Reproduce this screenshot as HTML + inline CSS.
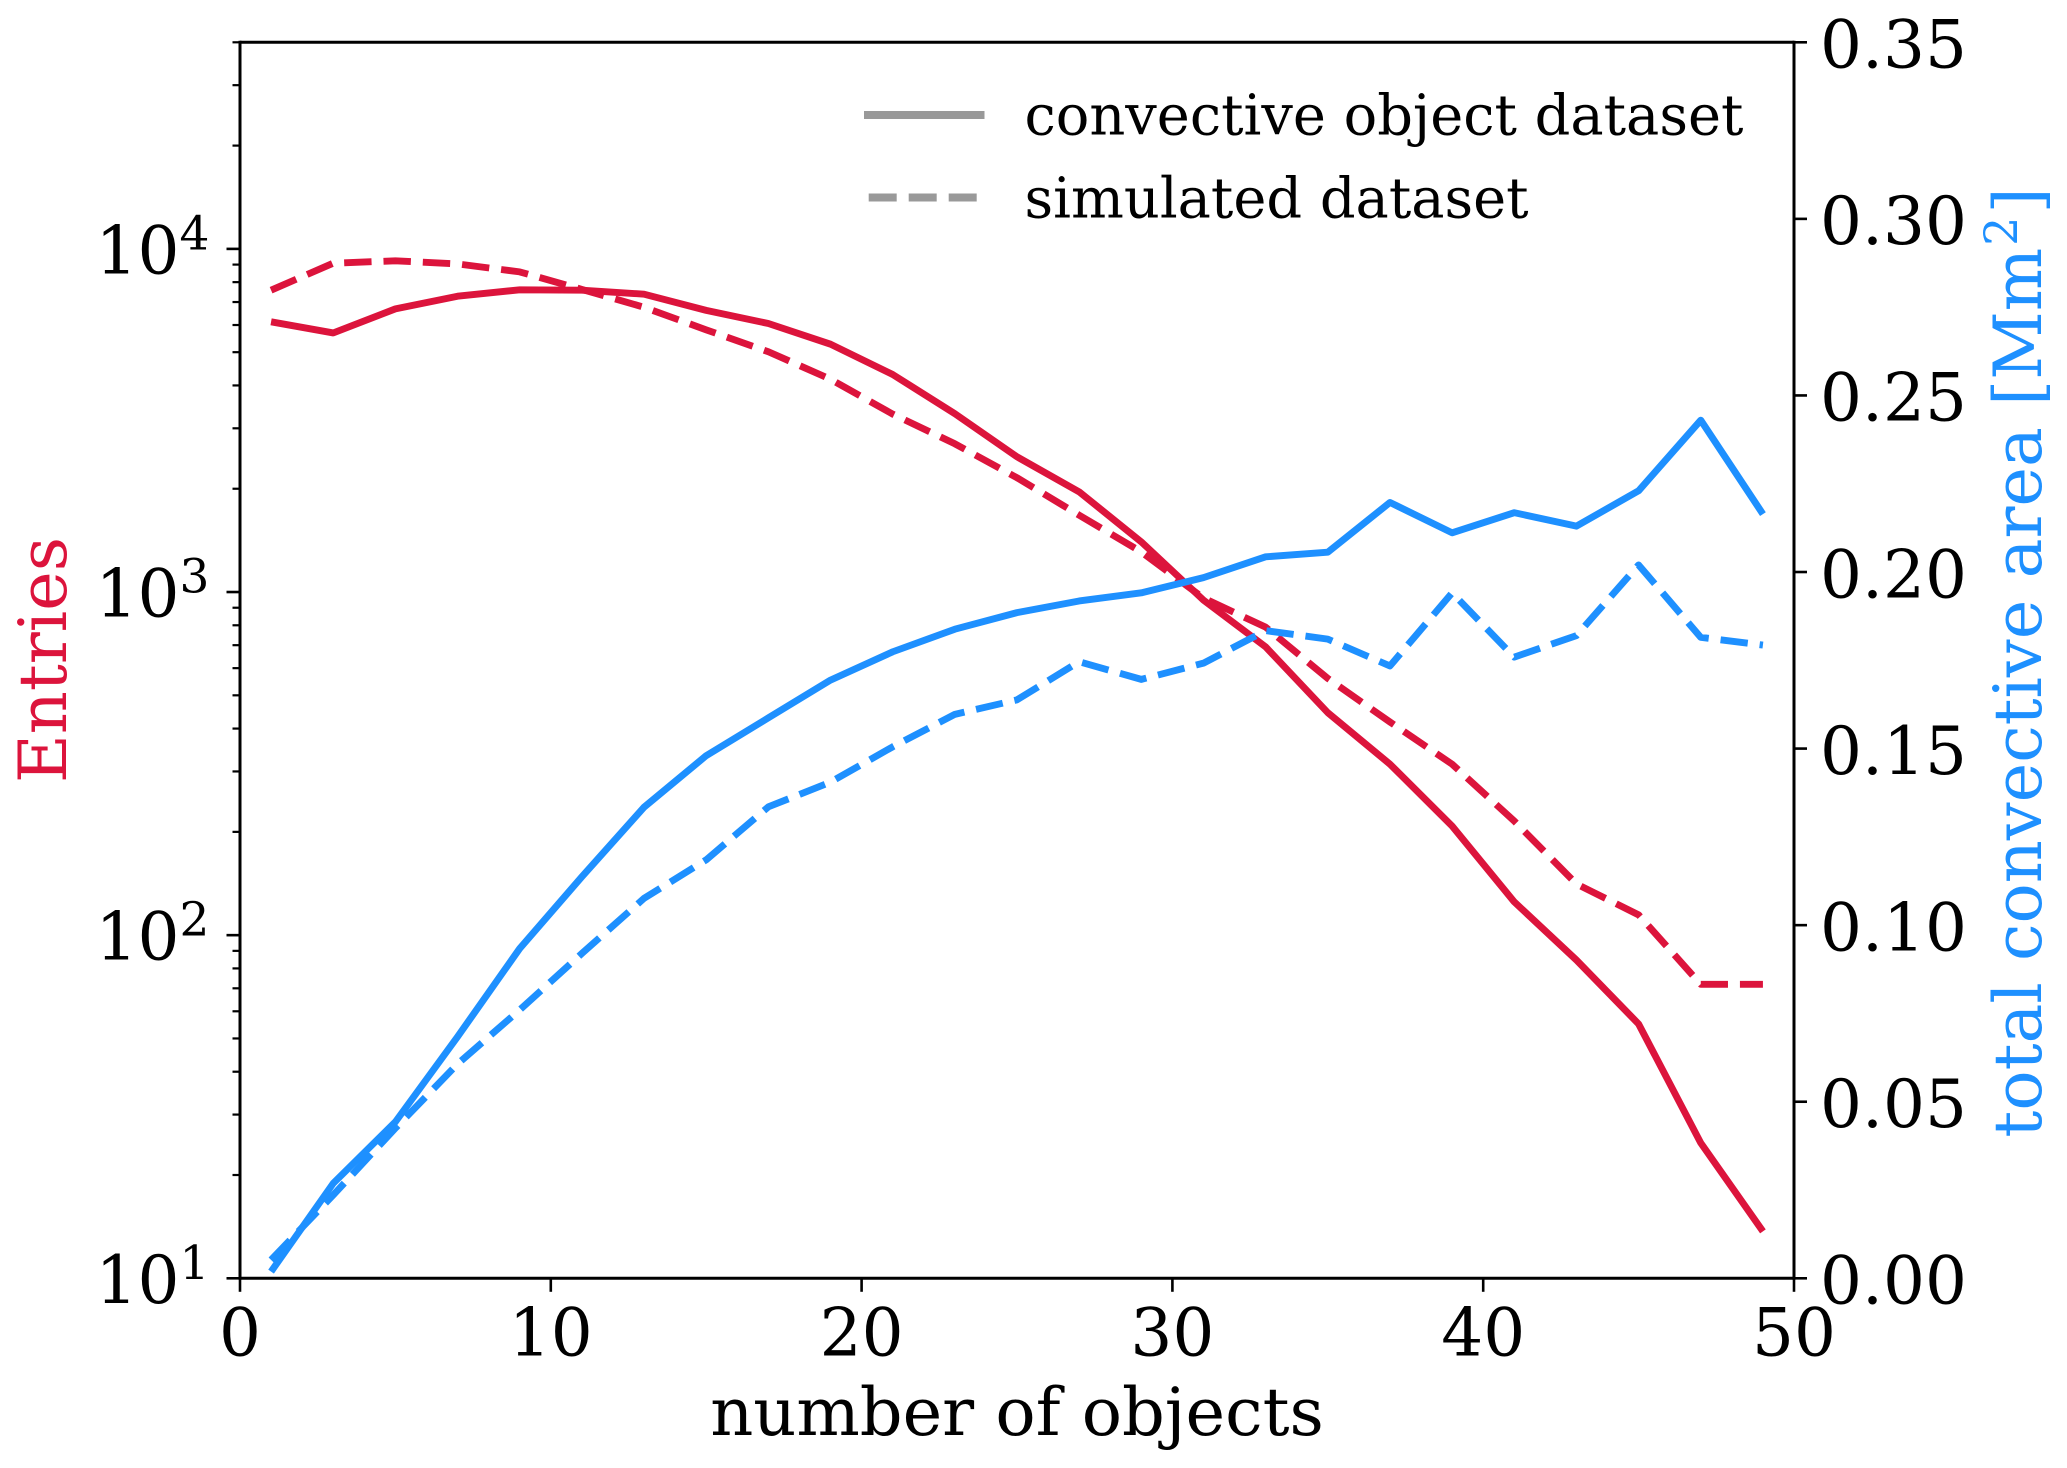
<!DOCTYPE html>
<html lang="en">
<head>
<meta charset="utf-8">
<title>Entries and total convective area versus number of objects</title>
<style>
  html, body { margin: 0; padding: 0; background: #ffffff; }
  body { width: 2067px; height: 1468px; overflow: hidden; }
  svg { display: block; }
  text { font-family: "DejaVu Serif", "Liberation Serif", serif; fill: #000000; }
</style>
</head>
<body>
<svg id="chart" xmlns="http://www.w3.org/2000/svg" width="2067" height="1468" viewBox="0 0 2067 1468">
  <rect x="0" y="0" width="2067" height="1468" fill="#ffffff"></rect>
  <g id="series-layer"></g>
  <g id="axes-layer"></g>
  <g id="legend">
    <line x1="864" y1="115" x2="984.5" y2="115" stroke="#999999" stroke-width="8"></line>
    <text x="1024.5" y="134.5" font-size="55.8">convective object dataset</text>
    <line x1="868.7" y1="197.5" x2="977" y2="197.5" stroke="#999999" stroke-width="8" stroke-dasharray="28 12"></line>
    <text x="1024.5" y="217.5" font-size="55.8">simulated dataset</text>
  </g>
  <text x="1017" y="1435" font-size="66.9" text-anchor="middle">number of objects</text>
  <text transform="translate(66 660) rotate(-90)" font-size="66.9" text-anchor="middle" style="fill:#DC143C">Entries</text>
  <text transform="translate(2041 662.5) rotate(-90)" font-size="66.9" text-anchor="middle" style="fill:#1E90FF">total convective area [Mm<tspan dx="2" dy="-24" font-size="46">2</tspan><tspan dx="3" dy="24">]</tspan></text>
</svg>
<script>
// Chart data
const objectCounts = [1,3,5,7,9,11,13,15,17,19,21,23,25,27,29,31,33,35,37,39,41,43,45,47,49];
const entriesObserved = [6130,5690,6685,7280,7600,7580,7380,6620,6060,5275,4305,3310,2478,1959,1400,947,692,445,315,208,125,84.6,55.1,24.8,13.7];
const entriesSimulated = [7580,9085,9230,9040,8570,7620,6760,5808,5015,4170,3300,2704,2153,1675,1309,960,790,560,418,315,215,141,114.6,71.9,71.9];
const areaObserved = [0.0019,0.0269,0.0443,0.0684,0.0934,0.1137,0.1334,0.1480,0.1587,0.1694,0.1774,0.1838,0.1885,0.1918,0.1941,0.1984,0.2043,0.2056,0.2197,0.2111,0.2168,0.2130,0.2230,0.2430,0.2164];
const areaSimulated = [0.0052,0.0236,0.0425,0.0607,0.0760,0.0920,0.1076,0.1185,0.1335,0.1405,0.1505,0.1597,0.1638,0.1746,0.1696,0.1742,0.1834,0.1810,0.1734,0.1941,0.1759,0.1820,0.2020,0.1815,0.1793];
const xTickValues = [0,10,20,30,40,50];
const leftMajorExponents = [1,2,3,4];
const leftMinorTicks = [20,30,40,50,60,70,80,90,200,300,400,500,600,700,800,900,2000,3000,4000,5000,6000,7000,8000,9000,20000,30000];
const rightTickLabels = ["0.00","0.05","0.10","0.15","0.20","0.25","0.30","0.35"];

// Plot frame and axis scales
const plotLeft = 240, plotRight = 1794, plotTop = 42.3, plotBottom = 1278.3;
const xMin = 0, xMax = 50, leftMin = 10, leftMax = 40000, rightMin = 0, rightMax = 0.35;
function xScale(v) { return plotLeft + (v - xMin) / (xMax - xMin) * (plotRight - plotLeft); }
function leftScale(v) {
  return plotBottom - (Math.log10(v) - Math.log10(leftMin)) / (Math.log10(leftMax) - Math.log10(leftMin)) * (plotBottom - plotTop);
}
function rightScale(v) { return plotBottom - (v - rightMin) / (rightMax - rightMin) * (plotBottom - plotTop); }

const SVG_NS = "http://www.w3.org/2000/svg";
const seriesLayer = document.getElementById("series-layer");
const axesLayer = document.getElementById("axes-layer");

function addLine(x1, y1, x2, y2, width) {
  const el = document.createElementNS(SVG_NS, "line");
  el.setAttribute("x1", x1);
  el.setAttribute("y1", y1);
  el.setAttribute("x2", x2);
  el.setAttribute("y2", y2);
  el.setAttribute("stroke", "#000000");
  el.setAttribute("stroke-width", width);
  axesLayer.appendChild(el);
  return el;
}

function addSeries(values, yScale, color, dashed) {
  const el = document.createElementNS(SVG_NS, "path");
  let d = "";
  objectCounts.forEach(function (c, i) {
    d += (i === 0 ? "M" : "L") + xScale(c).toFixed(2) + " " + yScale(values[i]).toFixed(2);
  });
  el.setAttribute("d", d);
  el.setAttribute("fill", "none");
  el.setAttribute("stroke", color);
  el.setAttribute("stroke-width", "6.9");
  el.setAttribute("stroke-linejoin", "round");
  el.setAttribute("stroke-linecap", "butt");
  if (dashed) {
    el.setAttribute("stroke-dasharray", "27.4 11.95");
  }
  seriesLayer.appendChild(el);
  return el;
}

// Series
const s1 = addSeries(entriesObserved, leftScale, "#DC143C", false);


const s2 = addSeries(entriesSimulated, leftScale, "#DC143C", true);


const s3 = addSeries(areaObserved, rightScale, "#1E90FF", false);


const s4 = addSeries(areaSimulated, rightScale, "#1E90FF", true);



// Spines
const spineLeft = addLine(plotLeft, plotTop - 1.5, plotLeft, plotBottom + 1.5, 3);


const spineRight = addLine(plotRight, plotTop - 1.5, plotRight, plotBottom + 1.5, 3);


const spineTop = addLine(plotLeft, plotTop, plotRight, plotTop, 3);


const spineBottom = addLine(plotLeft, plotBottom, plotRight, plotBottom, 3);



// X ticks
xTickValues.forEach(function (v) {
  const tick = addLine(xScale(v), plotBottom, xScale(v), plotBottom + 13.5, 2.6);
  
  
  const label = document.createElementNS(SVG_NS, "text");
  label.setAttribute("x", xScale(v));
  label.setAttribute("y", 1355.7);
  label.setAttribute("font-size", "66");
  label.setAttribute("text-anchor", "middle");
  label.textContent = String(v);
  
  
  axesLayer.appendChild(label);
});

// Left log ticks
leftMajorExponents.forEach(function (exp) {
  const y = leftScale(Math.pow(10, exp));
  const tick = addLine(plotLeft - 13.5, y, plotLeft, y, 2.6);
  
  
  const label = document.createElementNS(SVG_NS, "text");
  label.setAttribute("x", 95.5);
  label.setAttribute("y", y + 24.5);
  label.setAttribute("font-size", "66");
  label.textContent = "10";
  const sup = document.createElementNS(SVG_NS, "tspan");
  sup.setAttribute("dy", "-24");
  sup.setAttribute("font-size", "47");
  sup.textContent = String(exp);
  label.appendChild(sup);
  
  
  axesLayer.appendChild(label);
});
leftMinorTicks.forEach(function (v) {
  const y = leftScale(v);
  const tick = addLine(plotLeft - 7.5, y, plotLeft, y, 2.2);
  
  
});
const topMinor = addLine(plotLeft - 7.5, plotTop, plotLeft, plotTop, 2.2);



// Right linear ticks
rightTickLabels.forEach(function (t) {
  const y = rightScale(parseFloat(t));
  const tick = addLine(plotRight, y, plotRight + 13, y, 2.6);
  
  
  const label = document.createElementNS(SVG_NS, "text");
  label.setAttribute("x", 1820);
  label.setAttribute("y", y + 25.3);
  label.setAttribute("font-size", "66");
  label.textContent = t;
  
  
  axesLayer.appendChild(label);
});
</script>
</body>
</html>
